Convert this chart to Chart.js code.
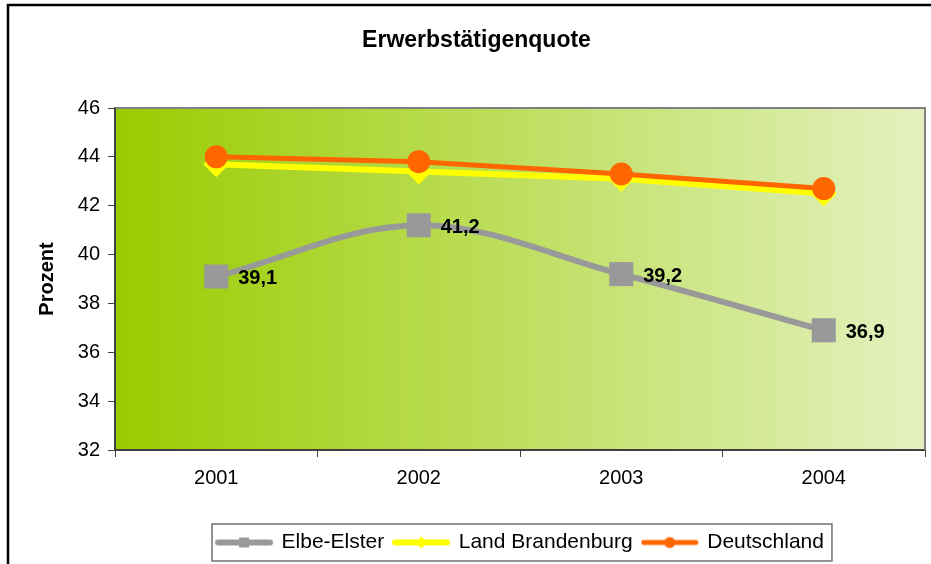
<!DOCTYPE html>
<html>
<head>
<meta charset="utf-8">
<script src="https://cdn.jsdelivr.net/npm/chart.js@4"></script>
<style>
  html, body { margin: 0; padding: 0; background: #fff; }
  #wrap { width: 931px; height: 564px; }
</style>
</head>
<body>
<div id="wrap"><canvas id="chart" width="931" height="564"></canvas></div>
<script>
const years = ["2001", "2002", "2003", "2004"];
const elbeElster = [39.1, 41.2, 39.2, 36.9];
const landBrandenburg = [43.7, 43.4, 43.1, 42.5];
const deutschland = [44.0, 43.8, 43.3, 42.7];
const seriesNames = ["Elbe-Elster", "Land Brandenburg", "Deutschland"];
const yTicks = [32, 34, 36, 38, 40, 42, 44, 46];

const FONT = "'Liberation Sans', Arial, sans-serif";
const PAD_L = 28;

// legend symbols: line with marker in the middle
function legendSymbol(color, lineW, marker) {
  const c = document.createElement("canvas");
  c.width = 58; c.height = 14;
  const g = c.getContext("2d");
  g.strokeStyle = color;
  g.fillStyle = color;
  g.lineWidth = lineW;
  g.lineCap = "round";
  g.beginPath(); g.moveTo(3, 7); g.lineTo(55, 7); g.stroke();
  g.beginPath();
  if (marker === "rect") g.rect(24, 2, 10, 10);
  else if (marker === "diamond") { g.moveTo(29, 1); g.lineTo(35, 7); g.lineTo(29, 13); g.lineTo(23, 7); g.closePath(); }
  else g.arc(29, 7, 5.5, 0, Math.PI * 2);
  g.fill();
  return c;
}
const symbols = [
  legendSymbol("#999999", 6, "rect"),
  legendSymbol("#ffff00", 6, "diamond"),
  legendSymbol("#ff6600", 5, "circle")
];

const decor = {
  id: "decor",
  beforeDraw(chart) {
    const { ctx, chartArea: a } = chart;
    ctx.save();
    ctx.fillStyle = "#fff";
    ctx.fillRect(0, 0, chart.width, chart.height);
    const grad = ctx.createLinearGradient(a.left, 0, a.right, 0);
    grad.addColorStop(0, "rgb(153,204,0)");
    grad.addColorStop(1, "rgb(228,241,192)");
    ctx.fillStyle = grad;
    ctx.fillRect(a.left, a.top, a.right - a.left, a.bottom - a.top);
    ctx.restore();
  },
  afterLayout(chart) {
    // legend in the reference is centred under the plot area
    const l = chart.legend;
    if (l) { l.left += 44; l.right += 44; }
  },
  afterDatasetsDraw(chart) {
    const { ctx, chartArea: a } = chart;
    ctx.save();
    // plot border top / right
    ctx.strokeStyle = "#808080";
    ctx.lineWidth = 2;
    ctx.beginPath();
    ctx.moveTo(a.left, a.top); ctx.lineTo(a.right, a.top); ctx.lineTo(a.right, a.bottom);
    ctx.stroke();
    // value labels for Elbe-Elster
    const meta = chart.getDatasetMeta(0);
    ctx.fillStyle = "#000";
    ctx.font = "bold 20px " + FONT;
    ctx.textBaseline = "middle";
    ctx.textAlign = "left";
    meta.data.forEach((pt, i) => {
      ctx.fillText(elbeElster[i].toFixed(1).replace(".", ","), pt.x + 22, pt.y + 2);
    });
    ctx.restore();
  },
  afterDraw(chart) {
    const { ctx } = chart;
    ctx.save();
    // legend frame
    const boxes = chart.legend.legendHitBoxes;
    if (boxes && boxes.length) {
      const left = Math.min(...boxes.map(b => b.left));
      const right = Math.max(...boxes.map(b => b.left + b.width));
      const top = boxes[0].top;
      ctx.strokeStyle = "#707070";
      ctx.lineWidth = 1.5;
      ctx.strokeRect(left - 5, top - 8, right - left + 13, boxes[0].height + 16);
    }
    // outer frame
    ctx.strokeStyle = "#000";
    ctx.lineWidth = 2.5;
    ctx.strokeRect(8, 5, 960, 620);
    ctx.restore();
  }
};

new Chart(document.getElementById("chart"), {
  type: "line",
  data: {
    labels: years,
    datasets: [
      {
        label: seriesNames[0],
        data: elbeElster,
        borderColor: "#999999",
        backgroundColor: "#999999",
        borderWidth: 6,
        tension: 0.35,
        pointStyle: "rect",
        pointRadius: 17,
        pointBorderWidth: 0,
        order: 2
      },
      {
        label: seriesNames[1],
        data: landBrandenburg,
        borderColor: "#ffff00",
        backgroundColor: "#ffff00",
        borderWidth: 6,
        pointStyle: "rectRot",
        pointRadius: 13,
        pointBorderWidth: 0,
        order: 1
      },
      {
        label: seriesNames[2],
        data: deutschland,
        borderColor: "#ff6600",
        backgroundColor: "#ff6600",
        borderWidth: 5,
        pointStyle: "circle",
        pointRadius: 11.5,
        pointBorderWidth: 0,
        order: 0
      }
    ]
  },
  options: {
    responsive: false,
    animation: false,
    layout: { autoPadding: false, padding: { left: PAD_L, right: 6, top: 0, bottom: 1 } },
    plugins: {
      tooltip: { enabled: false },
      title: {
        display: true,
        text: "Erwerbstätigenquote",
        color: "#000",
        font: { family: FONT, size: 23, weight: "bold" },
        padding: { top: 27, bottom: 53.4 }
      },
      legend: {
        position: "bottom",
        labels: {
          color: "#000",
          font: { family: FONT, size: 21 },
          usePointStyle: true,
          pointStyleWidth: 54,
          padding: 10,
          sort: (a, b) => a.datasetIndex - b.datasetIndex,
          generateLabels(chart) {
            const items = Chart.defaults.plugins.legend.labels.generateLabels(chart);
            items.forEach(it => { it.pointStyle = symbols[it.datasetIndex]; });
            return items;
          }
        }
      }
    },
    scales: {
      x: {
        offset: true,
        afterFit(s) { s.height = 72; s.paddingLeft = 0; s.paddingRight = 0; },
        grid: { offset: true, drawOnChartArea: false, tickLength: 7, color: "#404040", lineWidth: 1 },
        border: { color: "#404040", width: 2 },
        ticks: { color: "#000", font: { family: FONT, size: 20 }, padding: 9 }
      },
      y: {
        min: yTicks[0],
        max: yTicks[yTicks.length - 1],
        afterFit(s) { s.width = 115 - PAD_L; },
        afterBuildTicks(s) { s.ticks = yTicks.map(v => ({ value: v })); },
        grid: { drawOnChartArea: false, tickLength: 7, color: "#404040", lineWidth: 1 },
        border: { color: "#404040", width: 2 },
        ticks: { color: "#000", font: { family: FONT, size: 20 }, padding: 8 },
        title: {
          display: true,
          text: "Prozent",
          color: "#000",
          font: { family: FONT, size: 20, weight: "bold" },
          padding: { top: 7, bottom: 0 }
        }
      }
    }
  },
  plugins: [decor]
});
</script>
</body>
</html>
